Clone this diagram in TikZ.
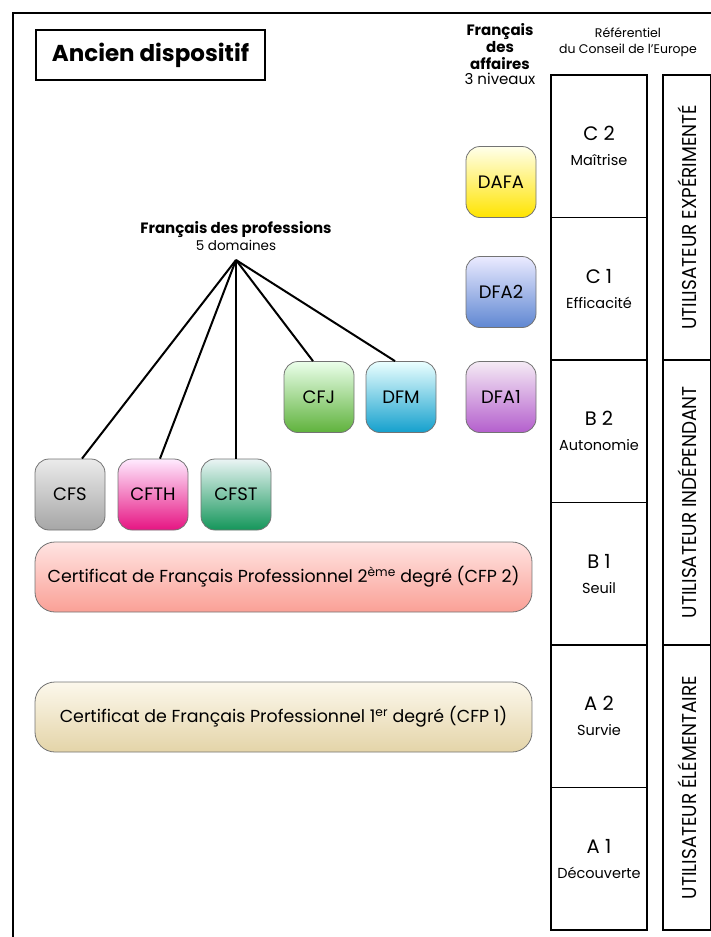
\documentclass[tikz,border=0pt]{standalone}
\usepackage{fontspec}
\setmainfont{Poppins}
\usetikzlibrary{positioning}

\tikzstyle{titlebox} = [rectangle, draw=black, line width=1.2pt, minimum width=229pt, minimum height=50pt, font=\bfseries\fontsize{23}{27}\selectfont]
\tikzstyle{head} = [align=center, font=\fontsize{12.5}{16.5}\selectfont]
\tikzstyle{pill} = [rectangle, rounded corners=14pt, draw=black!55, line width=0.8pt, minimum width=70pt, minimum height=71pt, font=\fontsize{18}{21}\selectfont]
\tikzstyle{longpill} = [pill, rounded corners=20pt, minimum width=497pt, minimum height=70pt, font=\fontsize{17.4}{21}\selectfont]
\tikzstyle{level} = [rectangle, draw=black, line width=1.2pt, minimum width=96pt, minimum height=142.5pt, align=center, font=\fontsize{19.5}{23}\selectfont]
\tikzstyle{band} = [rectangle, draw=black, line width=1.2pt, minimum width=285pt, minimum height=48pt, rotate=90, font=\fontsize{20}{23}\selectfont]
\tikzstyle{branch} = [line width=2pt]
\newcommand{\lvlsmall}{\fontsize{14.5}{17}\selectfont}

\begin{document}
\begin{tikzpicture}[x=1pt, y=-1pt, node distance=142.5pt]

\useasboundingbox (0,0) rectangle (711,937);
\clip (0,0) rectangle (711,937);

\draw[line width=2.4pt] (13,950) -- (13,13) -- (720,13);

\node (title) [titlebox] at (150.5,55) {Ancien dispositif};

\node (affaires) [head, font=\bfseries\fontsize{15}{17}\selectfont] at (500,47) {Français\\des\\affaires};
\node (niveaux) [head, font=\fontsize{15}{17}\selectfont, below=-4pt of affaires] {3 niveaux};
\node (referentiel) [head] at (628,42) {Référentiel\\du Conseil de l'Europe};

\node (c2) [level] at (599,146.25) {C 2\\[2pt]{\lvlsmall Maîtrise}};
\node (c1) [level, below of=c2] {C 1\\[2pt]{\lvlsmall Efficacité}};
\node (b2) [level, below of=c1] {B 2\\[2pt]{\lvlsmall Autonomie}};
\node (b1) [level, below of=b2] {B 1\\[2pt]{\lvlsmall Seuil}};
\node (a2) [level, below of=b1] {A 2\\[2pt]{\lvlsmall Survie}};
\node (a1) [level, below of=a2] {A 1\\[2pt]{\lvlsmall Découverte}};

\node (experimente) [band] at (687,217.5) {\scalebox{0.92}[1]{UTILISATEUR EXPÉRIMENTÉ}};
\node (independant) [band] at (687,502.5) {\scalebox{0.92}[1]{UTILISATEUR INDÉPENDANT}};
\node (elementaire) [band] at (687,787.5) {\scalebox{0.92}[1]{UTILISATEUR ÉLÉMENTAIRE}};

\node (dafa) [pill, top color=yellow!8, bottom color={rgb,255:red,255;green,228;blue,0}] at (501,182) {DAFA};
\node (dfa2) [pill, top color=blue!8, bottom color={rgb,255:red,95;green,135;blue,210}, below of=dafa, node distance=110pt] {DFA2};
\node (dfa1) [pill, top color=violet!8, bottom color={rgb,255:red,180;green,95;blue,205}, below of=dfa2, node distance=105pt] {DFA1};

\node (dfm) [pill, top color=cyan!8, bottom color={rgb,255:red,20;green,160;blue,205}, left of=dfa1, node distance=100pt] {DFM};
\node (cfj) [pill, top color=green!8, bottom color={rgb,255:red,95;green,178;blue,60}, left of=dfm, node distance=82pt] {CFJ};

\node (professions) [head, align=center] at (236,236) {{\bfseries\fontsize{15}{18}\selectfont Français des professions}\\{\fontsize{13.5}{15}\selectfont 5 domaines}};
\coordinate (apex) at (236,260);

\node (cfst) [pill, top color=teal!8, bottom color={rgb,255:red,20;green,150;blue,90}] at (236,494.5) {CFST};
\node (cfth) [pill, top color=magenta!8, bottom color={rgb,255:red,230;green,20;blue,130}, left of=cfst, node distance=83pt] {CFTH};
\node (cfs) [pill, top color=black!8, bottom color=black!35, left of=cfth, node distance=83pt] {CFS};

\node (cfp2) [longpill, top color={rgb,255:red,255;green,228;blue,226}, bottom color={rgb,255:red,250;green,160;blue,150}] at (283.5,577) {Certificat de Français Professionnel 2\textsuperscript{ème} degré (CFP 2)};
\node (cfp1) [longpill, top color={rgb,255:red,252;green,248;blue,236}, bottom color={rgb,255:red,228;green,212;blue,168}, below of=cfp2, node distance=140pt] {Certificat de Français Professionnel 1\textsuperscript{er} degré (CFP 1)};

\draw[branch] (apex) -- ([xshift=12pt]cfs.north);
\draw[branch] (apex) -- ([xshift=7pt]cfth.north);
\draw[branch] (apex) -- (cfst.north);
\draw[branch] (apex) -- ([xshift=-6pt]cfj.north);
\draw[branch] (apex) -- ([xshift=-6pt]dfm.north);

\end{tikzpicture}
\end{document}
